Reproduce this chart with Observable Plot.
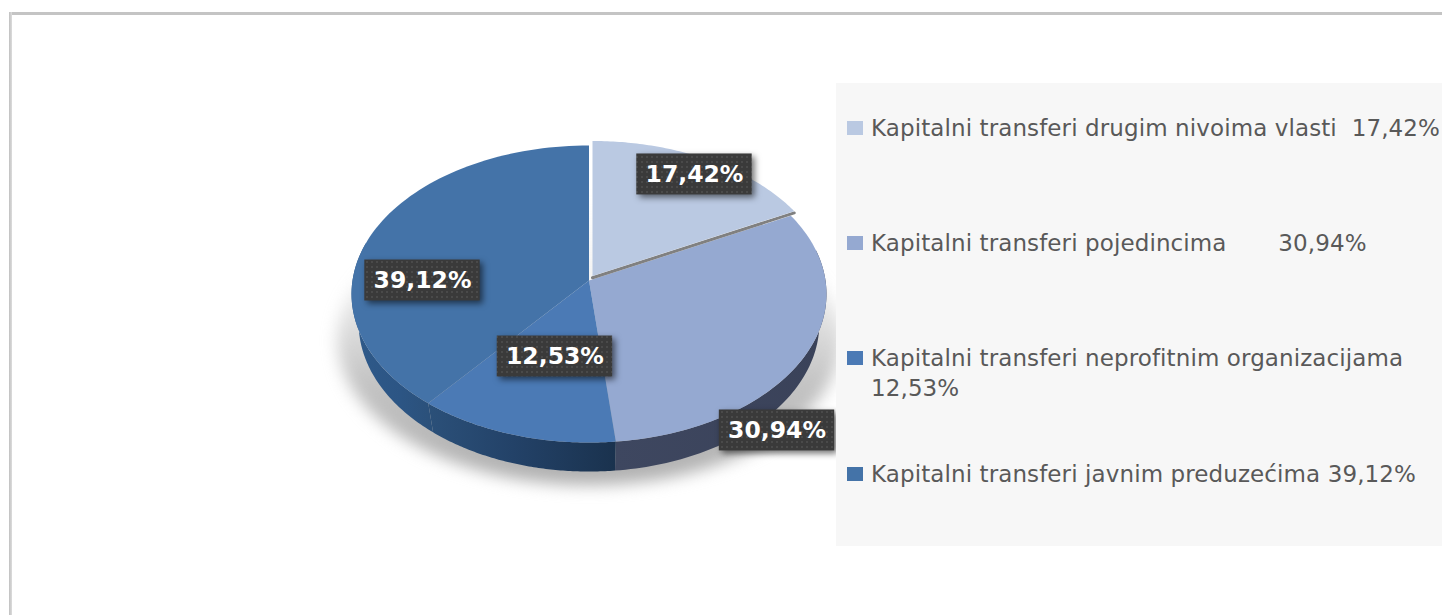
<!DOCTYPE html>
<html><head><meta charset="utf-8">
<script src="https://cdn.jsdelivr.net/npm/d3@7"></script>
<script src="https://cdn.jsdelivr.net/npm/@observablehq/plot@0.6"></script>
<style>
html,body{margin:0;padding:0;background:#fff;overflow:hidden}
#wrap{position:relative;width:1442px;height:615px;overflow:hidden}
#frameT{position:absolute;left:10px;top:12px;right:0;height:3px;background:#c4c4c4}
#frameL{position:absolute;left:9px;top:12px;bottom:0;width:3px;background:linear-gradient(90deg,#c0c0c0,#dcdcdc)}
#panel{position:absolute;left:836px;top:83px;width:606px;height:463px;background:#f7f7f7}
.row{position:absolute;left:871px;font:23px/30px "DejaVu Sans",sans-serif;letter-spacing:.1px;color:#595959;white-space:pre}
.key{position:absolute;left:847px;width:16px;height:14px}
</style></head><body>
<div id="wrap"></div>
<script>
const categories = [
  "Kapitalni transferi drugim nivoima vlasti",
  "Kapitalni transferi pojedincima",
  "Kapitalni transferi neprofitnim organizacijama",
  "Kapitalni transferi javnim preduzećima"
];
const values = [17.42, 30.94, 12.53, 39.12];
const sliceColors = ["#bac9e2", "#95a9d1", "#4b7ab5", "#4473a8"];
const legendGaps = ["  ", "       ", "\n", " "];

// Layout of the perspective view, kept apart from the data
const tilt = 0.0909, depth = 0.197, baseScale = 0.97;
const explode = [0.0148, 0.0306];
const labelX = [0.446, 0.795, -0.144, -0.704];
const labelY = [0.72, -1.018, -0.516, 0];
const boxW = 0.244, boxH = 0.139;
const legendY = [113, 228, 343, 459];

const fmt = v => v.toFixed(2).replace(".", ",") + "%";
const rad = d => d * Math.PI / 180;
const project = (deg, r = 1) => {
  const u = r * Math.sin(rad(deg)), v = r * Math.cos(rad(deg)), w = 1 + tilt * v;
  return [u / w, v / w];
};
const arc = (a, b, n = 80) => d3.range(n + 1).map(i => project(a + (b - a) * i / n));

const total = d3.sum(values);
let acc = 0;
const spans = values.map(v => { const a = acc; acc += v / total * 360; return [a, acc]; });

// slices (first one pulled out)
const sliceRows = categories.flatMap((c, i) => {
  const [a, b] = spans[i];
  const [ox, oy] = i === 0 ? explode : [0, 0];
  return [[0, 0], ...arc(a, b)].map(([x, y]) => ({c, x: x + ox, y: y + oy}));
});
// side walls
const wallRanges = [[null], [78, spans[1][1]], [spans[2][0], spans[2][1]], [spans[3][0], 285]];
const wallFill = ["none", "url(#w2)", "url(#w3)", "url(#w4)"];
const walls = [1, 2, 3].map(i => {
  const [a, b] = wallRanges[i];
  const rim = arc(a, b);
  const base = rim.slice().reverse().map(([x, y]) => [x * baseScale, y - depth]);
  return {fill: wallFill[i], pts: [...rim, ...base].map(([x, y]) => ({x, y}))};
});
const shadow = arc(0, 360, 160).map(([x, y]) => ({x: x * 1.06, y: y * 0.98 - 0.31}));
const e1 = project(0), e2 = project(spans[0][1]);
const edgeA = [e1, [0, 0]].map(([x, y]) => ({x: x + explode[0], y: y + explode[1] - 0.008}));
const edgeB = [[0, 0], e2].map(([x, y]) => ({x: x + explode[0], y: y + explode[1] - 0.012}));
const labels = values.map((v, i) => ({t: fmt(v), x: labelX[i], y: labelY[i]}));

const defs = () => {
  const d = d3.create("svg:defs");
  const lin = (id, stops, vertical) => {
    const g = d.append("linearGradient").attr("id", id)
      .attr("x1", 0).attr("y1", 0).attr("x2", vertical ? 0 : 1).attr("y2", vertical ? 1 : 0);
    stops.forEach(([o, c, op]) => g.append("stop").attr("offset", o).attr("stop-color", c).attr("stop-opacity", op ?? 1));
  };
  lin("w2", [[0, "#3e4760"], [1, "#3a4259"]]);
  lin("w3", [[0, "#2b5079"], [0.45, "#234268"], [1, "#1a324e"]]);
  lin("w4", [[0, "#2f5a8a"], [0.6, "#2c5584"], [1, "#2b5079"]]);
  lin("sh", [[0, "#aaa", 0], [0.3, "#aaa", 0.15], [0.65, "#aaa", 0.7], [1, "#aaa", 0.95]], true);
  lin("ed", [[0, "#ffffff"], [0.3, "#d8d8d8"], [1, "#a8a8a8"]], true);
  const p = d.append("pattern").attr("id", "dots").attr("width", 5).attr("height", 5).attr("patternUnits", "userSpaceOnUse");
  p.append("rect").attr("width", 5).attr("height", 5).attr("fill", "#3a3a3a");
  p.append("rect").attr("x", 1).attr("y", 1).attr("width", 2).attr("height", 2).attr("fill", "#4a4a4a");
  return d.node();
};

const chart = Plot.plot({
  width: 1442, height: 615, margin: 0,
  style: {background: "transparent"},
  x: {domain: [-1, 1], range: [352, 825], axis: null},
  y: {domain: [-1, 1], range: [427.3, 132.7], axis: null},
  color: {domain: categories, range: sliceColors},
  marks: [
    defs,
    Plot.line(shadow, {x: "x", y: "y", fill: "url(#sh)", stroke: "none", imageFilter: "blur(8px)"}),
    ...walls.map(w => Plot.line(w.pts, {x: "x", y: "y", fill: w.fill, stroke: "none"})),
    Plot.line(sliceRows.filter(d => d.c !== categories[0]), {x: "x", y: "y", z: "c", fill: "c", stroke: "none"}),
    Plot.line(edgeA, {x: "x", y: "y", stroke: "url(#ed)", strokeWidth: 3}),
    Plot.line(edgeB, {x: "x", y: "y", stroke: "#808080", strokeWidth: 3}),
    Plot.line(sliceRows.filter(d => d.c === categories[0]), {x: "x", y: "y", z: "c", fill: "c", stroke: "none"}),
    Plot.rect(labels, {
      x1: d => d.x - boxW, x2: d => d.x + boxW, y1: d => d.y - boxH, y2: d => d.y + boxH,
      fill: "url(#dots)", imageFilter: "drop-shadow(3px 3px 3px rgba(0,0,0,.55))"
    }),
    Plot.text(labels, {
      x: "x", y: "y", text: "t", fill: "white",
      fontFamily: "DejaVu Sans", fontWeight: "bold", fontSize: 23.5
    })
  ]
});

const wrap = document.getElementById("wrap");
wrap.append(chart);
wrap.insertAdjacentHTML("beforeend", '<div id="frameT"></div><div id="frameL"></div><div id="panel"></div>');
categories.forEach((c, i) => {
  const k = document.createElement("div");
  k.className = "key"; k.style.top = (legendY[i] + 8) + "px"; k.style.background = sliceColors[i];
  wrap.append(k);
  const r = document.createElement("div");
  r.className = "row"; r.style.top = legendY[i] + "px";
  r.textContent = c + legendGaps[i] + fmt(values[i]);
  wrap.append(r);
});
</script>
</body></html>
